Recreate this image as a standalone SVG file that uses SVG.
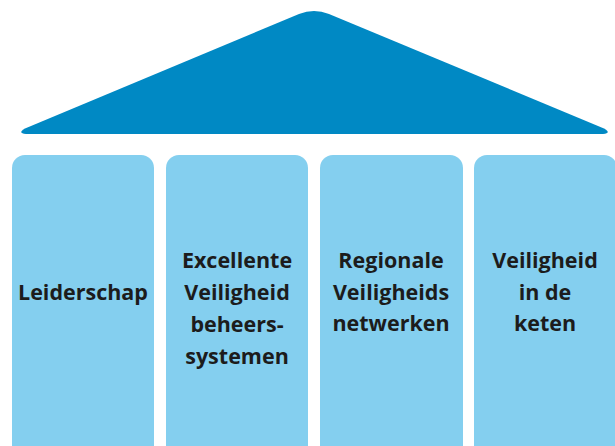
<svg xmlns="http://www.w3.org/2000/svg" width="615" height="446" viewBox="0 0 615 446">
<style>
.pillar{fill:#84CFEF}
.lbl{font-family:"Open Sans","Liberation Sans",sans-serif;font-weight:bold;font-size:21.5px;fill:#1c1c1c;text-anchor:middle}
</style>
<rect width="615" height="446" fill="#fff"/>
<g id="roof">
<path d="M 26,134 L 603,134 Q 612,133 604,128.5 L 329,14 Q 314,8 299,14 L 25,128.5 Q 17,133 26,134 Z" fill="#0089C4"/>
</g>
<g id="pillar1">
<rect class="pillar" x="12" y="155" width="142" height="310" rx="13"/>
<text class="lbl" x="83" y="300">Leiderschap</text>
</g>
<g id="pillar2">
<rect class="pillar" x="166" y="155" width="142" height="310" rx="13"/>
<text class="lbl" x="237" y="268">Excellente</text>
<text class="lbl" x="237" y="300">Veiligheid</text>
<text class="lbl" x="237" y="332">beheers-</text>
<text class="lbl" x="237" y="364">systemen</text>
</g>
<g id="pillar3">
<rect class="pillar" x="320" y="155" width="143" height="310" rx="13"/>
<text class="lbl" x="391" y="268">Regionale</text>
<text class="lbl" x="391" y="300">Veiligheids</text>
<text class="lbl" x="391" y="331">netwerken</text>
</g>
<g id="pillar4">
<rect class="pillar" x="474" y="155" width="143" height="310" rx="13"/>
<text class="lbl" x="545" y="268">Veiligheid</text>
<text class="lbl" x="545" y="300">in de</text>
<text class="lbl" x="545" y="331">keten</text>
</g>
<g id="connectors"/>
</svg>
